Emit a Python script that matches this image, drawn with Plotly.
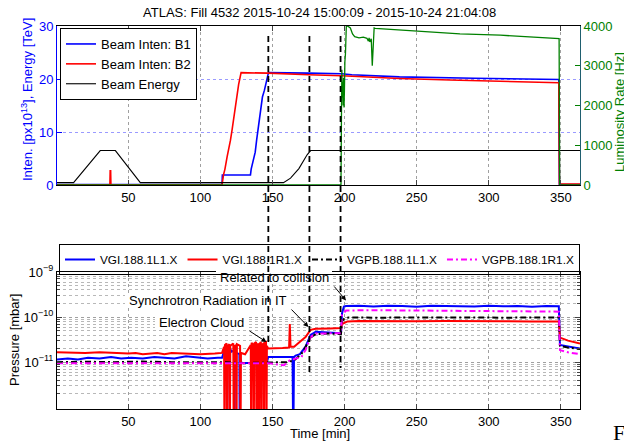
import numpy as np
import plotly.graph_objects as go

# ---------------- data ----------------
# Top panel: beam intensities [1e13 p], energy [TeV], luminosity [Hz]
t_b1 = [0.5, 115, 115.2, 134.7, 135.2, 136, 137, 138, 139, 140.3, 141.5, 143, 144.4, 145.5, 146.5, 147.2,
        175, 198, 205, 238, 290, 348.6, 349.0, 363.3]
b1 = [0.1, 0.1, 1.9, 1.9, 3.0, 4.1, 5.0, 6.2, 8.5, 10.9, 13.5, 16.6, 17.9, 19.2, 20.4, 21.2,
      21.1, 21.0, 20.8, 20.4, 20.15, 19.9, 0.1, 0.1]

t_b2 = [0.5, 37.2, 37.4, 37.7, 37.9, 115, 116, 117, 118.5, 119.5, 120.8, 122, 123.1, 124.2, 125.4, 126.5, 128.2,
        147, 175, 198, 238, 273, 348.6, 349.0, 363.3]
b2 = [0.05, 0.05, 2.7, 2.7, 0.05, 0.05, 1.9, 3.0, 5.3, 6.5, 8.4, 10.5, 12.8, 15.0, 17.2, 19.0, 21.2,
      21.1, 20.8, 20.6, 20.1, 19.8, 19.3, 0.2, 0.2]

t_energy = [0.5, 12, 30.5, 41, 58.3, 157.6, 162.5, 168.3, 174, 176.4, 363.3]
energy = [0.45, 0.45, 6.5, 6.5, 0.45, 0.45, 1.3, 3.1, 5.7, 6.5, 6.5]

t_lumi = [0.5, 197.5, 197.8, 198.1, 198.4, 198.7, 199.0, 199.3, 199.6, 199.9, 200.2, 200.6, 201.2, 202.0,
          204.0, 205.5, 207.0, 210.0, 213.0, 215.5, 216.5, 217.0, 217.5, 218.5, 219.2, 219.6, 220.0, 220.5,
          221.2, 238.0, 280.0, 308.0, 348.8, 349.2, 363.3]
lumi = [0, 0, 1600, 2900, 2200, 2600, 2000, 2700, 1950, 2400, 3100, 3300, 4000, 4000,
        3950, 3800, 3730, 3700, 3720, 3690, 3620, 3700, 3600, 3680, 3000, 3300, 3900, 3950,
        3940, 3900, 3800, 3770, 3680, 0, 0]

# Bottom panel: vacuum pressure [1e-11 mbar]
t_L1 = [0.5, 8, 15, 22, 30, 38, 45, 52, 60, 68, 75, 82, 90, 98, 105, 112, 115,
        116, 117, 118.2, 118.5, 118.8, 120, 121.5, 123.3, 123.6, 123.9, 125, 127, 127.3, 127.6, 128.5,
        135, 140, 146, 147, 155, 160, 163.9, 164.4, 164.9, 166, 169, 172.9, 176.4, 180, 190, 197.5,
        198.2, 199.5, 201, 210, 220, 230, 240, 250, 260, 270, 280, 290, 300, 310, 320, 330, 340, 348.6,
        349.4, 352, 356, 360, 363.3]
p_L1 = [1.15, 1.2, 1.15, 1.25, 1.2, 1.3, 1.2, 1.25, 1.2, 1.3, 1.25, 1.2, 1.35, 1.25, 1.2, 1.25, 1.25,
        1.6, 2.0, 1.9, 0.01, 1.8, 2.2, 1.7, 1.8, 0.01, 1.7, 1.6, 1.5, 0.01, 1.2, 0.97,
        0.95, 0.97, 0.95, 1.3, 1.3, 1.35, 1.3, 0.01, 1.3, 1.4, 1.5, 2.2, 4.0, 4.7, 4.5, 4.4,
        12, 17, 17.5, 17.8, 17.2, 17.8, 17.5, 17.0, 17.8, 17.5, 17.6, 17.2, 17.8, 17.3, 17.5, 17.0, 17.6, 17.3,
        2.4, 2.3, 2.2, 2.1, 2.0]

t_R1 = [0.5, 10, 20, 30, 40, 50, 55, 60, 70, 75, 80, 90, 100, 110, 115,
        116.4, 116.7, 117.0, 118.2, 118.5, 118.8, 120.1, 120.4, 120.7, 122.8, 123.1, 123.4,
        124.7, 125.0, 125.3, 127.5, 127.8, 128.1,
        131, 134.9, 135.2, 135.5, 136.7, 137.0, 137.3, 138.6, 138.9, 139.2, 140.2, 140.5, 140.8,
        141.9, 142.2, 142.5, 143.7, 144.0, 144.3, 145.5, 145.8, 146.1,
        147, 152, 157, 161.5, 162, 162.5, 165, 167, 170, 172.9, 176.4, 180, 190, 197.5,
        198.2, 200, 202, 210, 230, 250, 270, 290, 310, 330, 348.6, 349.4, 355, 363.3]
p_R1 = [1.65, 1.6, 1.6, 1.65, 1.6, 1.55, 1.6, 1.5, 1.6, 1.5, 1.6, 1.55, 1.5, 1.55, 1.6,
        2.2, 0.01, 2.4, 2.6, 0.01, 2.2, 2.5, 0.01, 2.3, 2.6, 0.01, 2.2,
        2.4, 0.01, 2.5, 2.3, 0.01, 1.6,
        1.5, 2.4, 0.01, 2.7, 2.3, 0.01, 2.6, 2.8, 0.01, 2.3, 2.6, 0.01, 2.5,
        2.8, 0.01, 2.4, 2.6, 0.01, 2.7, 2.8, 0.01, 2.3,
        2.0, 2.0, 2.05, 2.1, 7.0, 2.2, 2.2, 2.5, 3.0, 3.6, 5.2, 5.5, 5.6, 5.7,
        7.0, 7.5, 8.0, 8.2, 8.0, 8.1, 8.2, 8.0, 8.1, 8.0, 8.0, 3.5, 3.0, 2.6]

t_PBL1 = [0.5, 20, 40, 60, 80, 100, 115, 128, 147, 155, 160, 165, 170, 173, 176.4, 180, 190, 197.5,
          198.2, 200, 203, 220, 250, 280, 310, 348.6, 349.4, 355, 363.3]
p_PBL1 = [1.0, 1.02, 1.0, 1.03, 1.0, 1.02, 1.0, 0.95, 0.97, 1.0, 1.0, 1.1, 1.5, 2.2, 3.5, 4.2, 4.3, 4.2,
          8.0, 9.5, 9.8, 9.7, 9.9, 9.8, 9.7, 9.8, 2.3, 2.1, 1.95]

t_PBR1 = [0.5, 30, 60, 90, 120, 147, 152, 158, 162, 166, 170, 172.9, 176.4, 180, 190, 197.5,
          198.2, 201, 220, 250, 280, 310, 340, 348.6, 349.4, 355, 363.3]
p_PBR1 = [0.95, 0.95, 0.95, 0.95, 0.95, 0.95, 0.9, 0.85, 1.1, 1.2, 1.3, 1.85, 3.6, 4.3, 4.4, 4.4,
          11, 14, 14.2, 14.0, 13.8, 13.6, 13.4, 13.2, 1.85, 1.65, 1.5]

event_times = [147.1, 175.6, 197.2]
x_ticks = [50, 100, 150, 200, 250, 300, 350]
title_text = "ATLAS: Fill 4532 2015-10-24 15:00:09 - 2015-10-24 21:04:08"

# ---------------- layout geometry ----------------
W, H = 624, 443
L, R, T, B = 57, 44, 26, 34
PW, PH = W - L - R, H - T - B


def px_x(px):
    return (px - L) / PW


def px_y(py):
    return (H - B - py) / PH


FONT = "Liberation Sans, Arial, sans-serif"
BLUE, RED, GREEN, MAG = "#0000ff", "#ff0000", "#008000", "#ff00ff"
XR = [0.5, 363.3]

fig = go.Figure()

# top panel traces
fig.add_trace(go.Scatter(x=t_b1, y=b1, mode="lines", name="Beam Inten: B1",
                         line=dict(color=BLUE, width=1.6), xaxis="x", yaxis="y", legend="legend"))
fig.add_trace(go.Scatter(x=t_b2, y=b2, mode="lines", name="Beam Inten: B2",
                         line=dict(color=RED, width=1.6), xaxis="x", yaxis="y", legend="legend"))
fig.add_trace(go.Scatter(x=t_energy, y=energy, mode="lines", name="Beam Energy",
                         line=dict(color="black", width=1.1), xaxis="x", yaxis="y", legend="legend"))
fig.add_trace(go.Scatter(x=t_lumi, y=lumi, mode="lines", name="Luminosity", showlegend=False,
                         line=dict(color=GREEN, width=1.3), xaxis="x", yaxis="y2"))

# bottom panel traces
scale = 1e-11
for tt, pp, nm, col, dash in [
    (t_L1, p_L1, "VGI.188.1L1.X", BLUE, "solid"),
    (t_R1, p_R1, "VGI.188.1R1.X", RED, "solid"),
    (t_PBL1, p_PBL1, "VGPB.188.1L1.X", "black", "6px,3px,2px,3px"),
    (t_PBR1, p_PBR1, "VGPB.188.1R1.X", MAG, "6px,3px,2px,3px"),
]:
    fig.add_trace(go.Scatter(x=tt, y=np.array(pp) * scale, mode="lines", name=nm,
                             line=dict(color=col, width=2, dash=dash),
                             xaxis="x2", yaxis="y3", legend="legend2"))

top_dom = [px_y(185), 1.0]
bot_dom = [0.0, px_y(272)]

minor_vals = [k * 10.0 ** d for d in (-13, -12, -11, -10) for k in range(2, 10)]

fig.update_layout(
    width=W, height=H,
    margin=dict(l=L, r=R, t=T, b=B, autoexpand=False),
    paper_bgcolor="white", plot_bgcolor="white",
    font=dict(family=FONT, size=13, color="black"),
    xaxis=dict(domain=[0, 1], anchor="y", range=XR, tickvals=x_ticks, ticks="inside", ticklen=5,
               showline=True, linecolor="black", linewidth=1, mirror="ticks",
               showgrid=True, gridcolor="#a0a0a0", griddash="dot", gridwidth=1,
               zeroline=False, tickfont=dict(size=13, color="black")),
    yaxis=dict(domain=top_dom, anchor="x", range=[0, 30], tickvals=[0, 10, 20, 30], ticks="inside",
               ticklen=5, tickcolor=BLUE, showline=True, linecolor=BLUE, linewidth=1, mirror=False,
               showgrid=True, gridcolor="#9a9aff", griddash="dot", zeroline=False,
               tickfont=dict(size=13, color=BLUE)),
    yaxis2=dict(overlaying="y", side="right", anchor="x", range=[0, 4000],
                tickvals=[0, 1000, 2000, 3000, 4000], ticks="inside", ticklen=5, tickcolor=GREEN,
                showline=True, linecolor="#1f5f6f", linewidth=1, showgrid=False, zeroline=False,
                tickfont=dict(size=13, color=GREEN)),
    xaxis2=dict(domain=[0, 1], anchor="y3", range=XR, tickvals=x_ticks, ticks="inside", ticklen=5,
                showline=True, linecolor="black", linewidth=1, mirror="ticks",
                showgrid=True, gridcolor="#a0a0a0", griddash="dot", zeroline=False,
                tickfont=dict(size=13, color="black")),
    yaxis3=dict(domain=bot_dom, anchor="x2", type="log", range=[-12.04, -9],
                tickvals=[1e-11, 1e-10, 1e-9],
                ticktext=["10<sup>−11</sup>", "10<sup>−10</sup>", "10<sup>−9</sup>"],
                ticks="inside", ticklen=5, showline=True, linecolor="black", linewidth=1, mirror="ticks",
                showgrid=True, gridcolor="#a0a0a0", griddash="dot", zeroline=False,
                minor=dict(tickvals=minor_vals, ticks="inside", ticklen=3, showgrid=True,
                           gridcolor="#b8b8b8", griddash="dot"),
                tickfont=dict(size=13, color="black")),
    legend=dict(x=px_x(60), y=px_y(28), xanchor="left", yanchor="top", bgcolor="white",
                bordercolor="black", borderwidth=1, font=dict(size=13), tracegroupgap=0,
                itemwidth=30),
    legend2=dict(x=px_x(59), y=px_y(244), xanchor="left", yanchor="top", orientation="h",
                 bgcolor="rgba(0,0,0,0)", bordercolor="black", borderwidth=1, font=dict(size=11.8),
                 itemwidth=30),
)

shapes = []
# white boxes behind annotation texts
for x0, x1, y0, y1 in [(216, 332, 269, 284), (125, 290, 293, 308), (155, 247, 314, 330)]:
    shapes.append(dict(type="rect", xref="paper", yref="paper", x0=px_x(x0), x1=px_x(x1),
                       y0=px_y(y1), y1=px_y(y0), fillcolor="white", line=dict(width=0),
                       layer="above"))
# dashed event lines spanning both panels
for tx, yend in zip(event_times, [344, 372, 368]):
    shapes.append(dict(type="line", xref="x", yref="paper", x0=tx, x1=tx, y0=px_y(36), y1=px_y(yend),
                       line=dict(color="black", width=1.8, dash="6px,4px"), layer="above"))
fig.update_layout(shapes=shapes)

ann = []
ann.append(dict(text=title_text, xref="paper", yref="paper", x=px_x(319), y=px_y(12),
                showarrow=False, font=dict(size=13), xanchor="center", yanchor="middle"))
ann.append(dict(text="Inten. [px10<sup>13</sup>], Energy [TeV]", xref="paper", yref="paper",
                x=px_x(27), y=px_y(100), textangle=-90, showarrow=False,
                font=dict(size=13, color=BLUE), xanchor="center", yanchor="middle"))
ann.append(dict(text="Luminosity Rate [Hz]", xref="paper", yref="paper", x=px_x(619), y=px_y(112),
                textangle=-90, showarrow=False, font=dict(size=13, color=GREEN),
                xanchor="center", yanchor="middle"))
ann.append(dict(text="Pressure [mbar]", xref="paper", yref="paper", x=px_x(14), y=px_y(340),
                textangle=-90, showarrow=False, font=dict(size=13), xanchor="center", yanchor="middle"))
ann.append(dict(text="Time [min]", xref="paper", yref="paper", x=px_x(320), y=px_y(433),
                showarrow=False, font=dict(size=13), xanchor="center", yanchor="middle"))
ann.append(dict(text="F", xref="paper", yref="paper", x=px_x(611), y=px_y(432),
                showarrow=False, font=dict(size=22, family="Liberation Serif, DejaVu Serif, serif"),
                xanchor="left", yanchor="middle"))
# annotation texts
for txt, cx, cy in [("Related to collision", 274, 277), ("Synchrotron Radiation in IT", 208, 300),
                    ("Electron Cloud", 201, 322)]:
    ann.append(dict(text=txt, xref="paper", yref="paper", x=px_x(cx), y=px_y(cy), showarrow=False,
                    font=dict(size=13), xanchor="center", yanchor="middle"))
# arrows (head, tail)
for hx, hy, tx, ty in [(346, 300.5, 333, 285), (308.5, 327, 290, 308), (266.5, 342, 248, 330)]:
    ann.append(dict(text="", xref="paper", yref="paper", x=px_x(hx), y=px_y(hy),
                    ax=tx - hx, ay=ty - hy, axref="pixel", ayref="pixel", showarrow=True,
                    arrowhead=2, arrowsize=1, arrowwidth=1, arrowcolor="black"))
fig.update_layout(annotations=ann)

fig.write_html("out.html")
